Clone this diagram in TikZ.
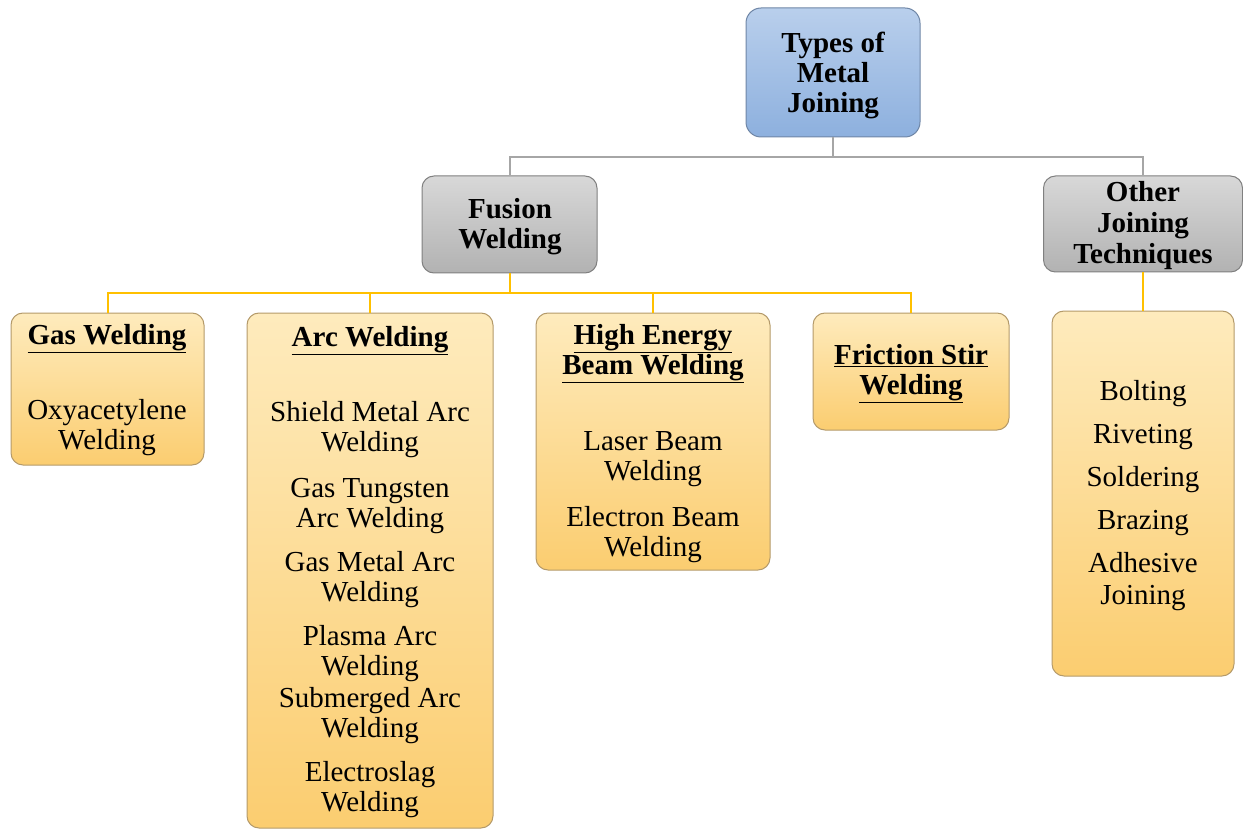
\documentclass[tikz,border=0pt]{standalone}
\usepackage{fontspec}
\setmainfont{Liberation Serif}
\definecolor{bluetop}{HTML}{B9CFEC}
\definecolor{bluebot}{HTML}{8DB0DE}
\definecolor{blueedge}{HTML}{6F86A6}
\definecolor{graytop}{HTML}{D8D8D8}
\definecolor{graybot}{HTML}{B2B2B2}
\definecolor{grayedge}{HTML}{808080}
\definecolor{yeltop}{HTML}{FEEBBD}
\definecolor{yelbot}{HTML}{FBCD70}
\definecolor{yeledge}{HTML}{B49A6A}
\definecolor{grayline}{HTML}{A6A6A6}
\definecolor{yelline}{HTML}{FFC000}
\tikzset{
  box/.style={draw, rounded corners=12pt, line width=1pt, inner sep=0pt},
  bluebox/.style={box, draw=blueedge, top color=bluetop, bottom color=bluebot, rounded corners=15pt},
  graybox/.style={box, draw=grayedge, top color=graytop, bottom color=graybot},
  yelbox/.style={box, draw=yeledge, top color=yeltop, bottom color=yelbot},
  txt/.style={align=center, inner sep=0pt, font=\fontsize{29}{30}\selectfont},
  hd/.style={txt, font=\fontsize{29}{30}\selectfont\bfseries},
  gl/.style={draw=grayline, line width=2pt},
  yl/.style={draw=yelline, line width=2pt}
}
\begin{document}
\begin{tikzpicture}[x=1pt, y=-1pt]
\useasboundingbox (0,0) rectangle (1243,829);

% boxes
\node[bluebox, minimum width=174pt, minimum height=129pt] (v1) at (833,72.5) {};
\node[graybox, minimum width=175pt, minimum height=97pt] (v2) at (509.5,224.5) {};
\node[graybox, minimum width=199pt, minimum height=96pt] (v3) at (1143,224) {};
\node[yelbox, minimum width=193pt, minimum height=152pt] (v4) at (107.5,389) {};
\node[yelbox, minimum width=246pt, minimum height=515pt] (v5) at (370,570.5) {};
\node[yelbox, minimum width=234pt, minimum height=257pt] (v6) at (653,441.5) {};
\node[yelbox, minimum width=196pt, minimum height=117pt] (v7) at (911,371.5) {};
\node[yelbox, minimum width=182pt, minimum height=365pt] (v8) at (1143,493.5) {};

% headings
\node[hd] (h1) at (833,75) {Types of\\Metal\\Joining};
\node[hd] (h2) at (510,227) {Fusion\\Welding};
\node[hd, font=\fontsize{29}{31}\selectfont\bfseries] (h3) at (1143,226) {Other\\Joining\\Techniques};
\node[hd] (h4) at (107,339) {\underline{Gas Welding}};
\node[hd] (h5) at (370,341) {\underline{Arc Welding}};
\node[hd] (h6) at (653,354) {\underline{High Energy}\\\underline{Beam Welding}};
\node[hd] (h7) at (911,374) {\underline{Friction Stir}\\\underline{Welding}};

% items
\node[txt] (g1) at (107,428) {Oxyacetylene\\Welding};
\node[txt] (a1) at (370,430) {Shield Metal Arc\\Welding};
\node[txt] (a2) at (370,506) {Gas Tungsten\\Arc Welding};
\node[txt] (a3) at (370,580) {Gas Metal Arc\\Welding};
\node[txt] (a4) at (370,654) {Plasma Arc\\Welding};
\node[txt] (a5) at (370,716) {Submerged Arc\\Welding};
\node[txt] (a6) at (370,790) {Electroslag\\Welding};
\node[txt] (b1) at (653,459) {Laser Beam\\Welding};
\node[txt] (b2) at (653,535) {Electron Beam\\Welding};
\node[txt] (o1) at (1143,394) {Bolting};
\node[txt] (o2) at (1143,437) {Riveting};
\node[txt] (o3) at (1143,480) {Soldering};
\node[txt] (o4) at (1143,523) {Brazing};
\node[txt, font=\fontsize{29}{32}\selectfont] (o5) at (1143,582) {Adhesive\\Joining};

% connectors
\draw[gl] (v1.south) -- ++(0,20) -| (v2.north);
\draw[gl] (v1.south) -- ++(0,20) -| (v3.north);
\draw[yl] (v2.south) -- ++(0,20) -| (v4.north);
\draw[yl] (v2.south) -- ++(0,20) -| (v5.north);
\draw[yl] (v2.south) -- ++(0,20) -| (v6.north);
\draw[yl] (v2.south) -- ++(0,20) -| (v7.north);
\draw[yl] (v3.south) -- (v8.north);

\end{tikzpicture}
\end{document}
